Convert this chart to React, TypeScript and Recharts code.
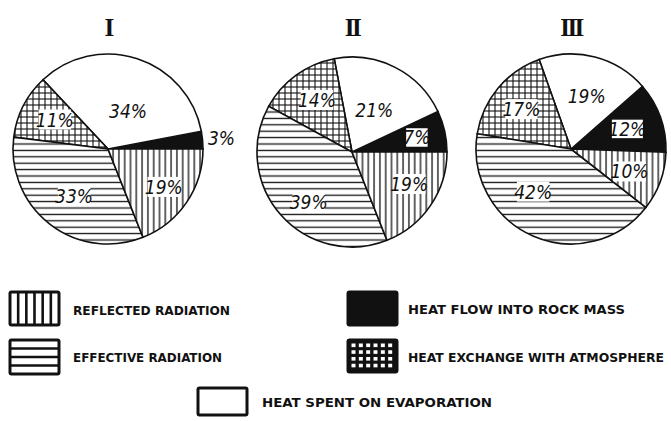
import React from 'react';
import { PieChart, Pie, Cell } from 'recharts';

// slice order inside every pie, counter-clockwise from 3 o'clock
const categories = ['rock', 'evaporation', 'atmosphere', 'effective', 'reflected'];
const pieTitles = ['I', 'II', 'III'];
const valuesI = [3, 34, 11, 33, 19];
const valuesII = [7, 21, 14, 39, 19];
const valuesIII = [12, 19, 17, 42, 10];
const legendLabels = [
  'REFLECTED RADIATION',
  'EFFECTIVE RADIATION',
  'HEAT FLOW INTO ROCK MASS',
  'HEAT EXCHANGE WITH ATMOSPHERE',
  'HEAT SPENT ON EVAPORATION',
];

const fills: Record<string, string> = {
  rock: '#111',
  evaporation: '#fff',
  atmosphere: 'url(#pCross)',
  effective: 'url(#pHoriz)',
  reflected: 'url(#pVert)',
};

const pies = [
  { title: pieTitles[0], values: valuesI, cx: 108, cy: 149, start: 0 },
  { title: pieTitles[1], values: valuesII, cx: 352, cy: 152, start: 0 },
  { title: pieTitles[2], values: valuesIII, cx: 571, cy: 149, start: -2 },
];

// [radius fraction, angle nudge] per slice, per pie
const labelPlace = [
  [[1.2, 0], [0.45, -10], [0.64, -2], [0.61, 2], [0.71, 0]],
  [[0.7, 0], [0.5, -1], [0.66, -2], [0.7, 8], [0.69, 5]],
  [[0.63, 0], [0.58, -2], [0.67, 1], [0.6, -18], [0.66, -1]],
];

const labelFont = "'Liberation Sans Narrow', 'DejaVu Sans Condensed', sans-serif";

const makeLabel = (p: number) => (props: any) => {
  const { cx, cy, midAngle, outerRadius, index, value } = props;
  const [f, da] = labelPlace[p][index];
  const a = ((midAngle + da) * Math.PI) / 180;
  const x = cx + outerRadius * f * Math.cos(a);
  const y = cy - outerRadius * f * Math.sin(a);
  const text = `${value}%`;
  const w = text.length * 9.5 + 4;
  const cat = categories[index];
  const outside = f > 1;
  const boxed = cat === 'rock' && !outside;
  return (
    <g>
      {!outside && cat !== 'evaporation' && (
        <rect
          x={x - w / 2}
          y={y - 10}
          width={w}
          height={20}
          fill="#fff"
          stroke={boxed ? '#111' : 'none'}
          strokeWidth={1.5}
        />
      )}
      <text
        x={x}
        y={y + 7}
        textAnchor="middle"
        fontFamily={labelFont}
        fontStyle="italic"
        fontSize={19}
        fill="#111"
      >
        {text}
      </text>
    </g>
  );
};

const LegendBox = ({ kind, x, y, w, h }: any) => {
  const items: React.ReactNode[] = [];
  if (kind === 'reflected') {
    for (let k = 1; k < 6; k++) {
      items.push(<line key={k} x1={x + (w * k) / 6} x2={x + (w * k) / 6} y1={y} y2={y + h} stroke="#111" strokeWidth={2.6} />);
    }
  }
  if (kind === 'effective') {
    for (let k = 1; k < 4; k++) {
      items.push(<line key={k} x1={x} x2={x + w} y1={y + (h * k) / 4} y2={y + (h * k) / 4} stroke="#111" strokeWidth={2.6} />);
    }
  }
  if (kind === 'atmosphere') {
    for (let c = 0; c < 6; c++) {
      for (let r = 0; r < 4; r++) {
        items.push(
          <rect key={`${c}-${r}`} x={x + 3.5 + c * ((w - 5) / 6)} y={y + 3.5 + r * ((h - 5) / 4)} width={4} height={3.6} fill="#fff" />
        );
      }
    }
  }
  const bg = kind === 'rock' || kind === 'atmosphere' ? '#111' : '#fff';
  return (
    <g>
      <rect x={x} y={y} width={w} height={h} fill={bg} stroke="#111" strokeWidth={3} rx={1.5} />
      {items}
    </g>
  );
};

const legendItems = [
  { kind: 'reflected', label: legendLabels[0], x: 10, y: 292, w: 49, h: 33, tx: 73, tw: 157, ty: 310 },
  { kind: 'effective', label: legendLabels[1], x: 10, y: 340, w: 49, h: 34, tx: 73, tw: 149, ty: 357 },
  { kind: 'rock', label: legendLabels[2], x: 348, y: 292, w: 49, h: 33, tx: 408, tw: 217, ty: 309 },
  { kind: 'atmosphere', label: legendLabels[3], x: 348, y: 340, w: 49, h: 32, tx: 408, tw: 256, ty: 357 },
  { kind: 'evaporation', label: legendLabels[4], x: 198, y: 388, w: 49, h: 27, tx: 262, tw: 230, ty: 402 },
];

export default function App() {
  return (
    <div style={{ position: 'absolute', left: 0, top: 0, width: 671, height: 421, background: '#fff' }}>
      <PieChart width={671} height={421} margin={{ top: 0, right: 0, bottom: 0, left: 0 }}>
        <defs>
          <pattern id="pVert" width={5.8} height={6} patternUnits="userSpaceOnUse">
            <rect width={5.8} height={6} fill="#fff" />
            <line x1={2.9} x2={2.9} y1={0} y2={6} stroke="#111" strokeWidth={1.3} />
          </pattern>
          <pattern id="pHoriz" width={6} height={6.4} patternUnits="userSpaceOnUse">
            <rect width={6} height={6.4} fill="#fff" />
            <line x1={0} x2={6} y1={3.2} y2={3.2} stroke="#111" strokeWidth={1.3} />
          </pattern>
          <pattern id="pCross" width={6} height={6} patternUnits="userSpaceOnUse">
            <rect width={6} height={6} fill="#fff" />
            <line x1={3} x2={3} y1={0} y2={6} stroke="#111" strokeWidth={1.1} />
            <line x1={0} x2={6} y1={3} y2={3} stroke="#111" strokeWidth={1.1} />
          </pattern>
        </defs>
        {pies.map((p, i) => (
          <Pie
            key={p.title}
            data={p.values.map((v, k) => ({ name: categories[k], value: v }))}
            dataKey="value"
            nameKey="name"
            cx={p.cx}
            cy={p.cy}
            outerRadius={95}
            startAngle={p.start}
            endAngle={p.start + 360}
            stroke="#111"
            strokeWidth={1.6}
            labelLine={false}
            label={makeLabel(i)}
            isAnimationActive={false}
          >
            {p.values.map((_, k) => (
              <Cell key={k} fill={fills[categories[k]]} />
            ))}
          </Pie>
        ))}
      </PieChart>
      <svg width={671} height={421} style={{ position: 'absolute', left: 0, top: 0, pointerEvents: 'none' }}>
        {pies.map((p) => (
          <text
            key={p.title}
            x={p.cx}
            y={36}
            textAnchor="middle"
            fontFamily="'Liberation Serif', serif"
            fontWeight="bold"
            fontSize={25}
            letterSpacing={-2.5}
            fill="#111"
          >
            {p.title}
          </text>
        ))}
        {legendItems.map((it) => (
          <g key={it.label}>
            <LegendBox kind={it.kind} x={it.x} y={it.y} w={it.w} h={it.h} />
            <text
              x={it.tx}
              y={it.ty + 5}
              textLength={it.tw}
              lengthAdjust="spacingAndGlyphs"
              fontFamily="'DejaVu Sans Condensed', 'DejaVu Sans', sans-serif"
              fontWeight="bold"
              fontSize={13}
              fill="#111"
            >
              {it.label}
            </text>
          </g>
        ))}
      </svg>
    </div>
  );
}
